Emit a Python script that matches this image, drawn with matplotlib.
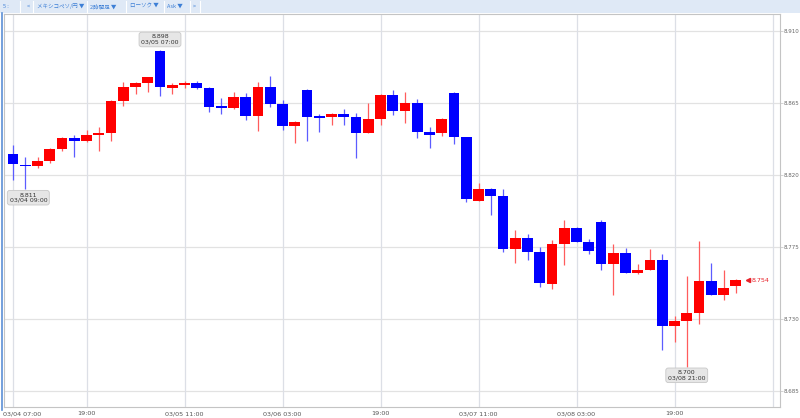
import matplotlib
matplotlib.use("Agg")
import matplotlib.pyplot as plt
from matplotlib.patches import Rectangle
from matplotlib.lines import Line2D
from matplotlib.transforms import ScaledTranslation
import numpy as np

# ---- data (2-hour candles, MXN/JPY) ----
opens = [8.8328, 8.8258, 8.8255, 8.8286, 8.8357, 8.8430, 8.8409, 8.8447, 8.8457, 8.8659,
         8.8749, 8.8770, 8.8972, 8.8743, 8.8761, 8.8770, 8.8741, 8.8622, 8.8618, 8.8686,
         8.8566, 8.8749, 8.8641, 8.8505, 8.8730, 8.8559, 8.8557, 8.8578, 8.8557, 8.8457,
         8.8547, 8.8699, 8.8597, 8.8649, 8.8468, 8.8457, 8.8707, 8.8436, 8.8034, 8.8107,
         8.8066, 8.7732, 8.7805, 8.7716, 8.7514, 8.7766, 8.7867, 8.7776, 8.7905, 8.7643,
         8.7707, 8.7584, 8.7603, 8.7668, 8.7253, 8.7284, 8.7333, 8.7534, 8.7445, 8.7505]
highs = [8.8384, 8.8307, 8.8311, 8.8368, 8.8436, 8.8447, 8.8478, 8.8495, 8.8666, 8.8776,
         8.8780, 8.8809, 8.8980, 8.8770, 8.8786, 8.8786, 8.8749, 8.8676, 8.8714, 8.8707,
         8.8776, 8.8818, 8.8666, 8.8536, 8.8736, 8.8576, 8.8586, 8.8607, 8.8586, 8.8649,
         8.8701, 8.8728, 8.8716, 8.8674, 8.8495, 8.8555, 8.8716, 8.8436, 8.8145, 8.8118,
         8.8107, 8.7853, 8.7826, 8.7749, 8.7791, 8.7916, 8.7874, 8.7795, 8.7916, 8.7766,
         8.7743, 8.7641, 8.7732, 8.7703, 8.7316, 8.7566, 8.7786, 8.7645, 8.7603, 8.7547]
lows = [8.8166, 8.8110, 8.8239, 8.8270, 8.8347, 8.8307, 8.8405, 8.8349, 8.8411, 8.8630,
        8.8701, 8.8718, 8.8691, 8.8703, 8.8743, 8.8733, 8.8589, 8.8578, 8.8609, 8.8541,
        8.8472, 8.8624, 8.8478, 8.8399, 8.8409, 8.8468, 8.8509, 8.8509, 8.8301, 8.8457,
        8.8509, 8.8570, 8.8520, 8.8430, 8.8367, 8.8441, 8.8389, 8.8026, 8.8034, 8.7947,
        8.7718, 8.7645, 8.7666, 8.7495, 8.7484, 8.7633, 8.7776, 8.7703, 8.7603, 8.7445,
        8.7584, 8.7578, 8.7603, 8.7103, 8.7151, 8.7000, 8.7266, 8.7445, 8.7416, 8.7458]
closes = [8.8266, 8.8254, 8.8286, 8.8357, 8.8428, 8.8409, 8.8447, 8.8457, 8.8659, 8.8749,
          8.8770, 8.8807, 8.8749, 8.8759, 8.8774, 8.8743, 8.8620, 8.8618, 8.8686, 8.8566,
          8.8749, 8.8641, 8.8505, 8.8530, 8.8557, 8.8555, 8.8578, 8.8557, 8.8457, 8.8547,
          8.8699, 8.8597, 8.8649, 8.8468, 8.8449, 8.8549, 8.8436, 8.8045, 8.8107, 8.8066,
          8.7732, 8.7805, 8.7714, 8.7522, 8.7766, 8.7866, 8.7776, 8.7722, 8.7643, 8.7707,
          8.7584, 8.7605, 8.7668, 8.7253, 8.7283, 8.7333, 8.7534, 8.7445, 8.7493, 8.7540]

xtick_idx = [0, 6, 14, 22, 30, 38, 46, 54]
xtick_labels = ["03/04 07:00", "19:00", "03/05 11:00", "03/06 03:00", "19:00",
                "03/07 11:00", "03/08 03:00", "19:00"]
xgrid_idx = [0, 6, 14, 22, 30, 38, 46, 54, 62]
ytick_vals = [8.685, 8.730, 8.775, 8.820, 8.865, 8.910]
ytick_labels = ["8.685", "8.730", "8.775", "8.820", "8.865", "8.910"]

ann_idx = [12, 1, 55]
ann_vals = ["8.898", "8.811", "8.700"]
ann_times = ["03/05 07:00", "03/04 09:00", "03/08 21:00"]
last_price = 8.754
last_label = "8.754"

toolbar_items = ["5 :", "<", "メキシコペソ/円 ▼", "2時間足 ▼", "ローソク ▼", "Ask ▼", ">"]

# ---- figure ----
W, H = 800, 418
fig = plt.figure(figsize=(W / 100, H / 100), dpi=100)
fig.patch.set_facecolor("white")

def fx(px):
    return px / W

def fy(py):
    return 1 - py / H

ax = fig.add_axes([fx(4), fy(407), fx(780 - 4), (407 - 14) / H])
ax.set_facecolor("white")

o = np.array(opens); h = np.array(highs); l = np.array(lows); c = np.array(closes)
x = np.arange(len(o))
up = c >= o
body_col = np.where(up, "#ff0000", "#0000ff")
wick_col = np.where(up, "#ff5c5c", "#5c5cff")

# gridlines
for v in ytick_vals:
    ax.axhline(v, color="#e2e2e2", lw=0.9, zorder=0)
for gi in xgrid_idx:
    ax.axvline(gi, color="#dcdfe6", lw=0.9, zorder=0)

ax.vlines(x, l, h, colors=wick_col, lw=0.9, zorder=2)
bottoms = np.minimum(o, c)
heights = np.maximum(np.abs(c - o), 0.0008)
ax.bar(x, heights, bottom=bottoms, width=0.86, color=body_col, edgecolor="none", zorder=3)

x_left = (4 - 13) / 12.25
x_right = (780 - 13) / 12.25
ax.set_xlim(x_left, x_right)
ax.set_ylim(8.910 - (407 - 30.5) / 1600, 8.910 + (30.5 - 14) / 1600)

ax.yaxis.tick_right()
ax.set_yticks(ytick_vals)
ax.set_yticklabels(ytick_labels)
ax.tick_params(axis="y", length=2, width=0.6, color="#cccccc", labelsize=4.0,
               labelcolor="#666666", pad=0.8)
ax.set_xticks(xtick_idx)
ax.set_xticklabels(xtick_labels)
ax.tick_params(axis="x", length=0, labelsize=4.6, labelcolor="#555555", pad=3)
first = ax.get_xticklabels()[0]
first.set_ha("left")
first.set_transform(first.get_transform() + ScaledTranslation(-10 / 100, 0, fig.dpi_scale_trans))

for sp in ax.spines.values():
    sp.set_color("#c4c4c4")
    sp.set_linewidth(0.8)

# annotations
for idx, val, t in zip(ann_idx, ann_vals, ann_times):
    if idx == 12:
        yy = 8.910 - (39.5 - 30.5) / 1600
    else:
        yy = l[idx] - 0.0055
    xx = idx + (0.25 if idx == 1 else 0)
    ax.text(xx, yy, val + "\n" + t, ha="center", va="center", fontsize=4.5,
            color="#333333", linespacing=1.05, zorder=5,
            bbox=dict(boxstyle="round,pad=0.35,rounding_size=0.4", fc="#e6e6e6",
                      ec="#c8c8c8", lw=0.6))

# last price marker
ax.plot([60.0], [last_price], marker="<", color="#e8222a", ms=3, zorder=5, clip_on=False)
ax.text(60.3, last_price, last_label, color="#e8222a", fontsize=4.6, va="center",
        ha="left", zorder=5)

# left blue line
fig.add_artist(Line2D([fx(1.5), fx(1.5)], [fy(410), fy(13)], color="#5b8fd6", lw=1.2))

# toolbar
fig.add_artist(Rectangle((0, fy(13)), 1, 13 / H, transform=fig.transFigure,
                         fc="#dfe9f6", ec="none", zorder=0))
item_x = [3, 27, 37, 90, 130, 167, 193]
sep_x = [20, 33, 87, 126, 164, 190, 200]
for t, px in zip(toolbar_items, item_x):
    fig.text(fx(px), fy(6.5), t, fontsize=4.0, color="#3d7fd6", va="center", ha="left",
             family=["Noto Sans CJK JP", "DejaVu Sans"])
for px in sep_x:
    fig.add_artist(Line2D([fx(px), fx(px)], [fy(12), fy(1)], color="#ffffff", lw=0.8))

fig.savefig("out.png", dpi=100, facecolor="white")
